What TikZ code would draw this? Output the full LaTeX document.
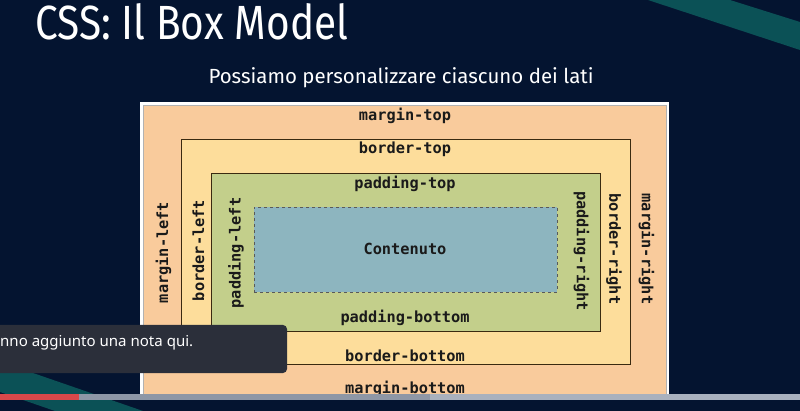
\documentclass[tikz,border=0pt]{standalone}
\usepackage{fontspec}
\usepackage{graphicx}
\setmainfont{Fira Sans}
\newfontfamily\monof{DejaVu Sans Mono}
\newfontfamily\tipf{Noto Sans}
\definecolor{navy}{HTML}{041430}
\definecolor{teal}{HTML}{0B5156}
\definecolor{marginc}{HTML}{F9CB9C}
\definecolor{borderc}{HTML}{FDDD9B}
\definecolor{paddingc}{HTML}{C3CF8B}
\definecolor{contentc}{HTML}{8DB5BF}
\definecolor{edgec}{HTML}{3A2A10}
\definecolor{labelc}{HTML}{1A1A1A}
\definecolor{tipc}{HTML}{2B2F3A}
\definecolor{barred}{HTML}{D9484A}
\definecolor{bargrey}{HTML}{8E97A6}
\definecolor{barlight}{HTML}{A9B1BE}
\tikzset{
  layer/.style={draw=edgec, line width=0.8pt, inner sep=0pt, outer sep=0pt},
  lab/.style={font=\monof\bfseries\fontsize{15.3}{16}\selectfont, text=labelc, inner sep=0pt},
}
\begin{document}
\begin{tikzpicture}[x=1pt,y=-1pt]
\fill[navy] (0,0) rectangle (800,411);
\useasboundingbox (0,0) rectangle (800,411);
% teal stripes
\fill[teal] (648,0) -- (730,0) -- (800,22) -- (800,50) -- cycle;
\fill[teal] (0,373) -- (33,373) -- (143,411) -- (55,411) -- (0,392) -- cycle;
% title and subtitle
\node[anchor=north west, inner sep=0pt, text=white] (title) at (35,3.5)
  {\resizebox{313pt}{36pt}{CSS: Il Box Model}};
\node[anchor=base west, inner sep=0pt, text=white] (subtitle) at (208.3,83.3)
  {\resizebox{385pt}{!}{\fontsize{22}{26}\selectfont Possiamo personalizzare ciascuno dei lati}};
% box model
\node[fill=white, inner sep=0pt, minimum width=529pt, minimum height=298pt] (frame) at (404.5,251) {};
\node[layer, draw=gray!60, line width=0.5pt, fill=marginc, minimum width=523pt, minimum height=292pt] (margin) at (404.5,251) {};
\node[layer, fill=borderc, minimum width=449pt, minimum height=225pt] (border) at (406,251.5) {};
\node[layer, fill=paddingc, minimum width=388.5pt, minimum height=158pt] (padding) at (405.75,252.7) {};
\node[layer, draw=gray!70!black, dashed, line width=0.6pt, fill=contentc, minimum width=303pt, minimum height=85pt] (content) at (405.5,249.5) {};
% labels
\node[lab] (mt) at (405,115.5) {margin-top};
\node[lab] (bt) at (405,149.5) {border-top};
\node[lab] (pt) at (405,183.5) {padding-top};
\node[lab] (ct) at (405,248.5) {Contenuto};
\node[lab] (pb) at (405,317.5) {padding-bottom};
\node[lab] (bb) at (405,355.5) {border-bottom};
\node[lab] (mb) at (405,388.5) {margin-bottom};
\node[lab, rotate=90] (ml) at (163.5,252.5) {margin-left};
\node[lab, rotate=90] (bl) at (198.5,250.5) {border-left};
\node[lab, rotate=90] (pl) at (236,253) {padding-left};
\node[lab, rotate=-90] (pr) at (581.5,251) {padding-right};
\node[lab, rotate=-90] (br) at (614,249) {border-right};
\node[lab, rotate=-90] (mr) at (646.5,249) {margin-right};
% progress bar
\fill[bargrey] (79,394) rectangle (430,399.5);
\fill[barlight] (430,394) rectangle (800,399.5);
\fill[barred] (0,394) rectangle (79,399.5);
% tooltip
\fill[tipc, rounded corners=4pt] (-10,325) rectangle (287,373);
\node[anchor=base west, inner sep=0pt, text=white] (tip) at (0,346.5)
  {\resizebox{193pt}{!}{\tipf\fontsize{15}{18}\selectfont nno aggiunto una nota qui.}};
\end{tikzpicture}
\end{document}
